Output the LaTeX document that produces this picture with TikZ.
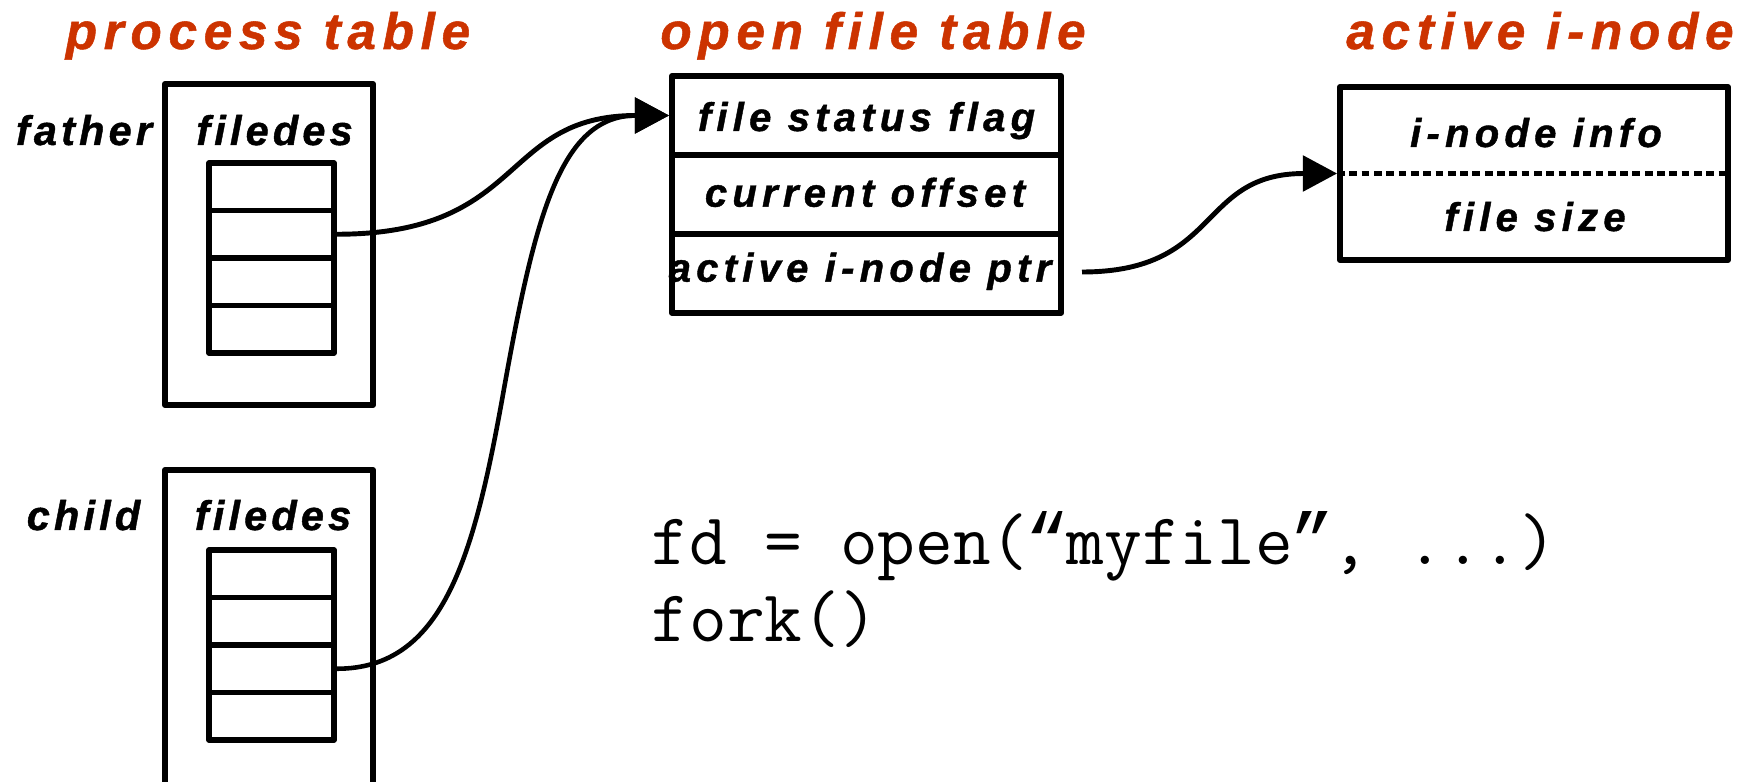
\documentclass[tikz,border=0pt]{standalone}
\usepackage{fontspec}
\setmainfont{Liberation Sans}
\newfontfamily\labfont{Liberation Sans}[LetterSpace=10, FakeBold=1]
\newfontfamily\boxfont{Liberation Sans}[LetterSpace=13, FakeBold=1]
\newfontfamily\titlefont{Liberation Sans}[LetterSpace=13, FakeBold=1]
\newfontfamily\quotefont{Liberation Mono}
\newcommand\myquote[1]{{\quotefont\makebox[0.525em]{#1}}}
\usetikzlibrary{arrows.meta}
\definecolor{titlered}{RGB}{204,51,0}
\begin{document}
\begin{tikzpicture}[x=0.01cm,y=-0.01cm,
  title/.style={font=\titlefont\bfseries\itshape\fontsize{14.6pt}{17pt}\selectfont, text=titlered, anchor=base, inner sep=0pt},
  lab/.style={font=\labfont\bfseries\itshape\fontsize{11.8pt}{14pt}\selectfont, anchor=base, inner sep=0pt},
  boxtext/.style={font=\boxfont\bfseries\itshape\fontsize{11.4pt}{14pt}\selectfont, anchor=base, inner sep=0pt},
  box/.style={draw, line width=1.6pt, inner sep=0pt, line join=round},
  cell/.style={box, minimum width=12.5mm, minimum height=4.75mm},
  ofrow/.style={box, minimum width=38.9mm, minimum height=7.9mm},
  conn/.style={line width=1.4pt, -{Triangle[length=9.7pt,width=10pt]}},
  dotline/.style={line width=1.4pt, dash pattern=on 2.2pt off 1.3pt}]
\clip (0,0) rectangle (1750,782);
% titles
\node[title] (t1) at (268,49) {process table};
\node[title] (t2) at (873,49) {open file table};
\node[title] (t3) at (1540,49) {active i-node};
% father
\node[box, minimum width=20.8mm, minimum height=32.1mm] (fbox) at (269,244.5) {};
\node[lab] (flab) at (84,145) {father};
\node[lab] (ffd) at (274.5,145) {filedes};
\node[cell] (fc1) at (271.5,186.75) {};
\node[cell] (fc2) at (271.5,234.25) {};
\node[cell] (fc3) at (271.5,281.75) {};
\node[cell] (fc4) at (271.5,329.25) {};
% child
\node[box, minimum width=20.8mm, minimum height=36mm] (cbox) at (269,650) {};
\node[lab] (clab) at (83.5,530) {child};
\node[lab] (cfd) at (273,530) {filedes};
\node[cell] (cc1) at (271.5,573.75) {};
\node[cell] (cc2) at (271.5,621.25) {};
\node[cell] (cc3) at (271.5,668.75) {};
\node[cell] (cc4) at (271.5,716.25) {};
% open file table
\node[ofrow] (r1) at (866.5,115.5) {};
\node[ofrow] (r2) at (866.5,194.5) {};
\node[ofrow] (r3) at (866.5,273.5) {};
\node[boxtext] (r1t) at (866.5,131) {file status flag};
\node[boxtext] (r2t) at (865,206.7) {current offset};
\node[boxtext] (r3t) at (860,281.7) {active i-node ptr};
% active i-node
\node[box, minimum width=38.8mm, minimum height=17.3mm] (ain) at (1534,173.5) {};
\draw[dotline] (ain.west) -- (ain.east);
\node[boxtext] (ait1) at (1536,147) {i-node info};
\node[boxtext] (ait2) at (1535,231) {file size};
% code
\node[font=\ttfamily\fontsize{20.8pt}{21.9pt}\selectfont, anchor=base west, align=left, inner sep=0pt] (code) at (651,642) {fd = open(\myquote{“}myfile\myquote{”}, ...)\\fork()};
% connectors
\coordinate (pstart) at (1082,272);
\coordinate (cmid) at (502,400);
\draw[conn] (fc2.east) .. controls +(190,0) and +(-170,0) .. (r1.west);
\draw[conn, line width=1.3pt] (cc3.east) .. controls +(105,0) and +(-29,160) .. (cmid) .. controls +(32,-180) and +(-110,0) .. (r1.west);
\draw[conn] (pstart) .. controls +(140,0) and +(-140,0) .. (ain.west);
\end{tikzpicture}
\end{document}
